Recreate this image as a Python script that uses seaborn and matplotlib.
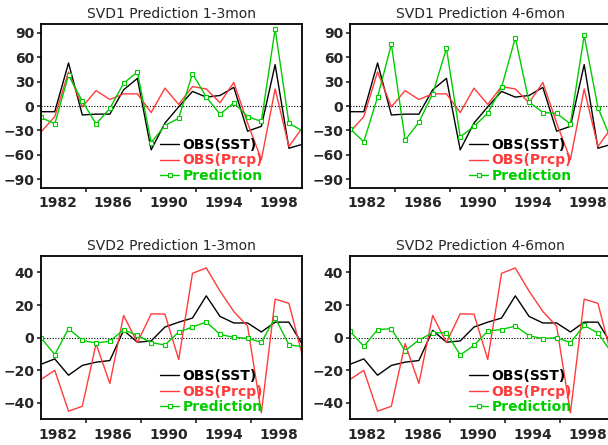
import numpy as np
import pandas as pd
import seaborn as sns
import matplotlib
matplotlib.use("Agg")
import matplotlib.pyplot as plt

# years of the series (values sit at the start of the 4th quarter of each year)
years = list(range(1981, 2001))

# SVD1
svd1_sst = [-7, -7, 53, -11, -10, -10, 20, 34, -54, -21, -1, 18, 11, 13, 23, -31, -25, 51, -52, -47]
svd1_prcp = [-32, -13, 42, -1, 19, 8, 15, 15, -8, 22, 2, 24, 21, 4, 29, -21, -66, 21, -50, -26]
svd1_pred13 = [-14, -22, 38, 6, -22, -3, 28, 42, -45, -24, -15, 40, 11, -10, 4, -13, -19, 95, -21, -31]
svd1_pred46 = [-28, -44, 11, 76, -42, -20, 15, 71, -38, -25, -9, 23, 84, 5, -8, -9, -22, 87, -2, -43]

# SVD2
svd2_sst = [-16.3, -13, -23, -17, -15, -14, 4.5, -2.8, -2, 6.5, 9.5, 12, 25.6, 13, 9, 9, 3.5, 9.5, 9.5, -4.4]
svd2_prcp = [-25.6, -20, -45, -42, -3.7, -28, 13.6, -3, 14.6, 14.4, -13.4, 39.4, 42.7, 28.5, 16, 7, -46, 23.6, 21, -11.6]
svd2_pred13 = [0, -10.4, 5.5, -1.6, -3.3, -2.2, 4.9, 1.4, -3, -4.5, 3.5, 6.5, 9.6, 2, 0.2, -0.4, -2.8, 12.2, -4.3, -5.6]
svd2_pred46 = [3.9, -5.3, 4.9, 5.5, -8.1, -1.4, 3, 3, -10.6, -4.7, 4, 5, 7.1, 1.2, -0.6, 0, -3, 7.5, 2.8, -9.2]

titles = ["SVD1 Prediction 1-3mon", "SVD1 Prediction 4-6mon",
          "SVD2 Prediction 1-3mon", "SVD2 Prediction 4-6mon"]

sns.set_style("ticks")
plt.rcParams["font.family"] = ["DejaVu Sans"]

fig = plt.figure(figsize=(6.08, 4.45), dpi=100)

# axes boxes (left, bottom, width, height) in figure fraction
boxes = [
    [0.0674, 0.5775, 0.4293, 0.3685],
    [0.5757, 0.5775, 0.4293, 0.3685],
    [0.0674, 0.0577, 0.4293, 0.3670],
    [0.5757, 0.0577, 0.4293, 0.3670],
]

panels = [
    (svd1_sst, svd1_prcp, svd1_pred13),
    (svd1_sst, svd1_prcp, svd1_pred46),
    (svd2_sst, svd2_prcp, svd2_pred13),
    (svd2_sst, svd2_prcp, svd2_pred46),
]

x = np.array(years) - 0.25
green = "#00cc00"
red = "#ff3b3b"

for i, (sst, prcp, pred) in enumerate(panels):
    ax = fig.add_axes(boxes[i])
    ax.axhline(0, color="black", lw=0.8, ls=(0, (1, 1.5)), zorder=1)
    sns.lineplot(x=x, y=sst, ax=ax, color="black", lw=1.0, label="OBS(SST)")
    sns.lineplot(x=x, y=prcp, ax=ax, color=red, lw=1.0, label="OBS(Prcp)")
    sns.lineplot(x=x, y=pred, ax=ax, color=green, lw=1.0, marker="s",
                 markersize=3.2, markerfacecolor="white", markeredgecolor=green,
                 markeredgewidth=0.8, label="Prediction")

    ax.set_xlim(1980.75, 1999.7)
    if i < 2:
        ax.set_ylim(-101, 101)
        ax.set_yticks([-90, -60, -30, 0, 30, 60, 90])
    else:
        ax.set_ylim(-50, 50)
        ax.set_yticks([-40, -20, 0, 20, 40])

    # labels at 1982, 1986, ... without marks; marks at 1984, 1988, ...
    ax.set_xticks([1984, 1988, 1992, 1996])
    ax.set_xticklabels([])
    ax.set_xticks([1982, 1986, 1990, 1994, 1998], minor=True)
    ax.set_xticklabels(["1982", "1986", "1990", "1994", "1998"], minor=True,
                       fontsize=10, fontweight="bold")
    ax.tick_params(axis="x", which="major", length=3, width=1.2, direction="out")
    ax.tick_params(axis="x", which="minor", length=0, pad=6)
    ax.tick_params(axis="y", length=3, width=1.2, direction="out", pad=2,
                   labelsize=10)
    for lab in ax.get_yticklabels():
        lab.set_fontweight("bold")

    for sp in ax.spines.values():
        sp.set_visible(True)
        sp.set_linewidth(1.3)
        sp.set_color("black")

    ax.set_xlabel("")
    ax.set_ylabel("")
    ax.set_title(titles[i], fontsize=10, pad=4)

    leg = ax.legend(loc="lower left", bbox_to_anchor=(0.43, -0.012), frameon=False,
                    handlelength=1.35, handletextpad=0.25, labelspacing=0.12,
                    borderaxespad=0.1, labelcolor="linecolor",
                    prop={"size": 10, "weight": "bold"})

fig.savefig("out.png", dpi=100)
